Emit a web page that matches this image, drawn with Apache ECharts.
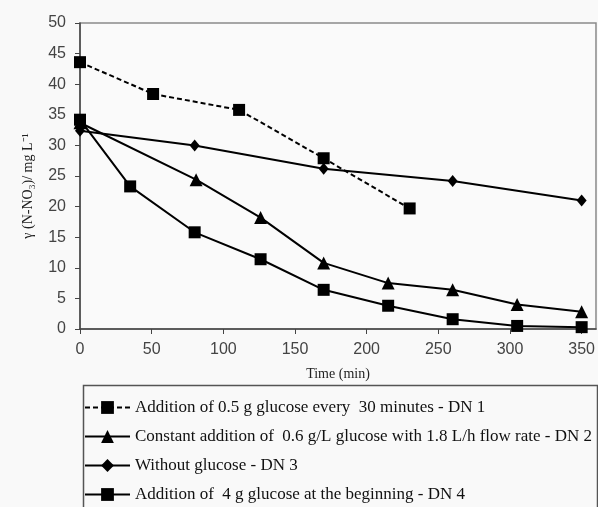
<!DOCTYPE html>
<html>
<head>
<meta charset="utf-8">
<script src="https://cdn.jsdelivr.net/npm/echarts@6/dist/echarts.min.js"></script>
<style>
  html, body { margin: 0; padding: 0; background: #f9f9f9; }
  #chart { width: 598px; height: 507px; }
</style>
</head>
<body>
<div id="chart"></div>
<script>
// values (time in min, nitrate in mg/L)
var seriesNames = [
  'Addition of 0.5 g glucose every  30 minutes - DN 1',
  'Constant addition of  0.6 g/L glucose with 1.8 L/h flow rate - DN 2',
  'Without glucose - DN 3',
  'Addition of  4 g glucose at the beginning - DN 4'
]
var dn1 = [[0, 43.6], [51, 38.4], [111, 35.8], [170, 27.9], [230, 19.7]]
var dn2 = [[0, 33.7], [81, 24.4], [126, 18.2], [170, 10.8], [215, 7.5], [260, 6.4], [305, 4.0], [350, 2.8]]
var dn3 = [[0, 32.4], [80, 30.0], [170, 26.2], [260, 24.2], [350, 21.0]]
var dn4 = [[0, 34.2], [35, 23.3], [80, 15.8], [126, 11.4], [170, 6.4], [215, 3.8], [260, 1.6], [305, 0.5], [350, 0.3]]

var chart = echarts.init(document.getElementById('chart'))

function line (name, data, symbol, size, dashed) {
  return {
    name: name,
    type: 'line',
    data: data,
    symbol: symbol,
    symbolSize: size,
    itemStyle: {color: '#000'},
    lineStyle: {color: '#000', width: 2, type: dashed ? [5, 3] : 'solid'},
    animation: false
  }
}

var option = {
  backgroundColor: '#f9f9f9',
  grid: {
    left: 80, top: 23, right: 2, bottom: 178,
    show: true, borderColor: '#8a8a8a', borderWidth: 1.5, backgroundColor: '#fafafa'
  },
  xAxis: {
    type: 'value',
    min: 0,
    max: 360,
    interval: 50,
    name: 'Time (min)',
    nameLocation: 'middle',
    nameGap: 38,
    nameTextStyle: {fontFamily: 'Liberation Serif', fontSize: 14, color: '#222'},
    axisLine: {lineStyle: {color: '#444', width: 1.5}},
    axisTick: {show: true, length: 5, lineStyle: {color: '#444'}},
    axisLabel: {showMaxLabel: false, fontFamily: 'Liberation Sans', fontSize: 16, color: '#444', margin: 13},
    splitLine: {show: false}
  },
  yAxis: {
    type: 'value',
    min: 0,
    max: 50,
    interval: 5,
    name: 'γ (N-NO₃)/ mg L⁻¹',
    nameLocation: 'middle',
    nameGap: 45,
    nameRotate: 90,
    nameTextStyle: {fontFamily: 'Liberation Serif', fontSize: 14, color: '#222', padding: [0, 20, 0, 0]},
    axisLine: {show: true, lineStyle: {color: '#444', width: 1.5}},
    axisTick: {show: true, length: 5, lineStyle: {color: '#444'}},
    axisLabel: {fontFamily: 'Liberation Sans', fontSize: 16, color: '#444', margin: 14},
    splitLine: {show: false}
  },
  legend: {
    orient: 'vertical',
    left: 79,
    top: 394,
    height: 220,
    itemWidth: 45,
    itemHeight: 16,
    itemGap: 12,
    textStyle: {fontFamily: 'Liberation Serif', fontSize: 17, color: '#111'},
    data: seriesNames
  },
  graphic: [{
    type: 'rect',
    left: 81,
    top: 383,
    shape: {width: 514, height: 140},
    style: {fill: 'none', stroke: '#555', lineWidth: 1.5},
    silent: true
  }],
  series: [
    line(seriesNames[0], dn1, 'rect', 12, true),
    line(seriesNames[1], dn2, 'triangle', 13, false),
    line(seriesNames[2], dn3, 'diamond', [10, 12], false),
    line(seriesNames[3], dn4, 'rect', 12, false)
  ]
}
chart.setOption(option, true)
</script>
</body>
</html>
